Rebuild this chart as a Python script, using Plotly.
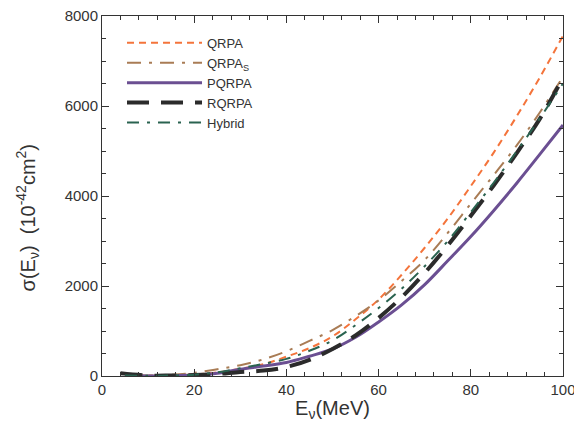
import plotly.graph_objects as go

E = [5, 10, 15, 20, 25, 30, 35, 40, 45, 50, 55, 60, 65, 70, 75, 80, 85, 90, 95, 100]

qrpa = [15, 5, 15, 35, 80, 160, 260, 430, 620, 880, 1260, 1700, 2250, 2850, 3500, 4220, 4970, 5780, 6640, 7560]
qrpa_s_E = [8, 10, 15, 20, 25, 30, 35, 40, 45, 50, 55, 60, 65, 70, 75, 80, 85, 90, 95, 100]
qrpa_s = [15, 10, 25, 70, 150, 240, 370, 550, 780, 1020, 1330, 1680, 2110, 2580, 3180, 3830, 4470, 5130, 5860, 6650]
pqrpa = [5, 0, 5, 20, 60, 150, 220, 300, 440, 600, 860, 1200, 1580, 2030, 2560, 3100, 3680, 4290, 4930, 5578]
rqrpa_E = [4, 10, 15, 20, 25, 30, 35, 40, 45, 50, 55, 60, 65, 70, 75, 80, 85, 90, 95, 99]
rqrpa = [60, 10, 10, 20, 45, 90, 120, 200, 360, 600, 900, 1290, 1750, 2290, 2900, 3560, 4240, 4960, 5720, 6440]
hybrid = [10, 5, 10, 30, 80, 170, 270, 380, 560, 790, 1130, 1510, 1940, 2440, 3000, 3640, 4300, 5000, 5730, 6500]

fig = go.Figure()
fig.add_trace(go.Scatter(x=E, y=qrpa, mode="lines", name="QRPA",
                         line=dict(color="#f4743b", width=2, dash="7px,5px"), line_shape="spline"))
fig.add_trace(go.Scatter(x=qrpa_s_E, y=qrpa_s, mode="lines", name="QRPA<sub>S</sub>",
                         line=dict(color="#a97c55", width=2, dash="14px,8px,3px,8px"), line_shape="spline"))
fig.add_trace(go.Scatter(x=E, y=pqrpa, mode="lines", name="PQRPA",
                         line=dict(color="#6b4f92", width=3), line_shape="spline"))
fig.add_trace(go.Scatter(x=rqrpa_E, y=rqrpa, mode="lines", name="RQRPA",
                         line=dict(color="#2b2b2b", width=4, dash="22px,12px"), line_shape="spline"))
fig.add_trace(go.Scatter(x=E, y=hybrid, mode="lines", name="Hybrid",
                         line=dict(color="#2a6350", width=2, dash="12px,8px,3px,8px"), line_shape="spline"))

font_family = "Liberation Sans, Arial"
axis_common = dict(showline=True, linecolor="#333", linewidth=1, mirror="ticks",
                   ticks="inside", ticklen=7, tickcolor="#333", showgrid=False, zeroline=False,
                   automargin=False, ticklabeloverflow="allow",
                   tickfont=dict(family=font_family, size=15, color="#333"))

fig.update_xaxes(range=[0, 100], dtick=20, tick0=0,
                 minor=dict(ticks="inside", ticklen=4, dtick=4, tickcolor="#333"),
                 title=dict(text="E<sub>ν</sub>(MeV)", font=dict(family=font_family, size=20, color="#333"), standoff=10),
                 **axis_common)
fig.update_yaxes(range=[0, 8000], dtick=2000, tick0=0,
                 minor=dict(ticks="inside", ticklen=4, dtick=500, tickcolor="#333"),
                 **axis_common)

fig.add_annotation(text="σ(E<sub>ν</sub>)  (10<sup>-42</sup>cm<sup>2</sup>)",
                   xref="paper", yref="paper", x=-0.161, y=0.44, xanchor="center", yanchor="middle",
                   textangle=-90, showarrow=False,
                   font=dict(family=font_family, size=20, color="#333"))

fig.update_layout(
    width=574, height=414,
    margin=dict(l=94, r=19, t=8, b=46),
    plot_bgcolor="white", paper_bgcolor="white",
    legend=dict(x=0.0434, y=0.967, xanchor="left", yanchor="top", bgcolor="rgba(0,0,0,0)",
                font=dict(family=font_family, size=13, color="#333"),
                itemwidth=75, tracegroupgap=0),
    showlegend=True,
)

fig.write_html("out.html")
